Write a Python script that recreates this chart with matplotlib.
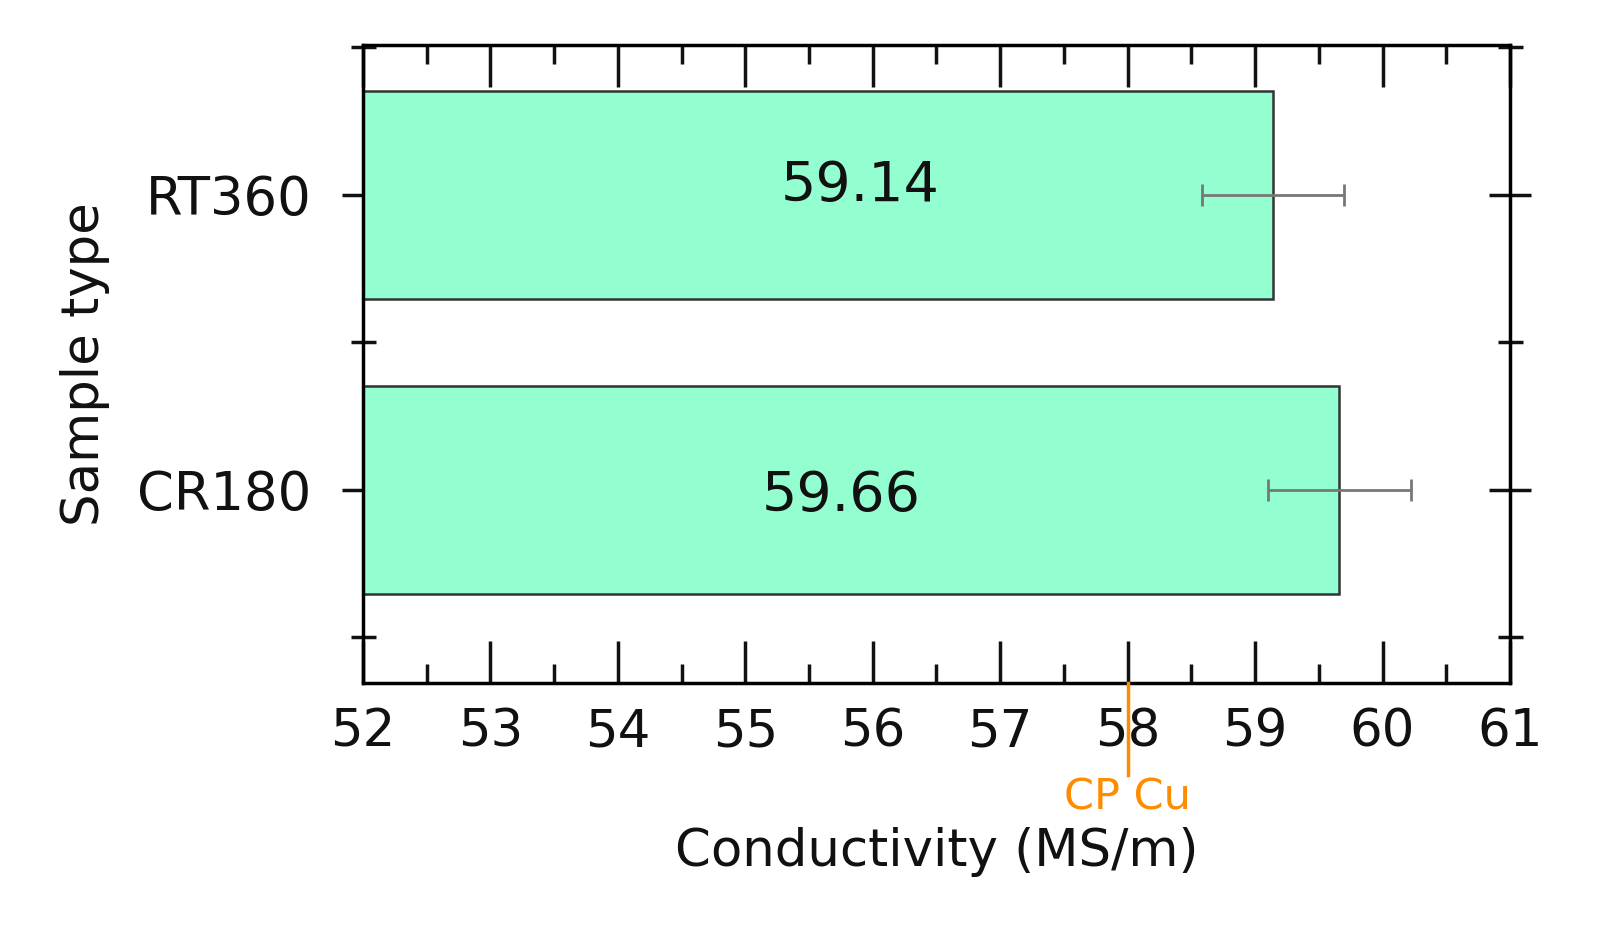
import matplotlib.pyplot as plt
from matplotlib.ticker import MultipleLocator

samples = ['CR180', 'RT360']
conductivity = [59.66, 59.14]
err_low = [59.10, 58.58]
err_high = [60.22, 59.70]
cp_cu = 58.0

plt.rcParams['font.family'] = 'DejaVu Sans'

fig = plt.figure(figsize=(16.17, 9.33), dpi=100)
ax = fig.add_axes([0.2245, 0.268, 0.7093, 0.684])

ypos = [0, 1]
ax.barh(ypos, [c - 52 for c in conductivity], left=52, height=0.705,
        color='#93FFD0', edgecolor='#333333', linewidth=1.8, zorder=2)

xerr = [[c - l for c, l in zip(conductivity, err_low)],
        [h - c for c, h in zip(conductivity, err_high)]]
ax.errorbar(conductivity, ypos, xerr=xerr, fmt='none', ecolor='#777777',
            elinewidth=2, capsize=8, capthick=2, zorder=3)

for y, c, xpos in zip(ypos, conductivity, [55.75, 55.9]):
    ax.text(xpos, y - 0.02 if y == 0 else y + 0.03, f'{c:.2f}', ha='center', va='center',
            fontsize=40, color='#111111', zorder=4)

ax.set_xlim(52, 61)
ax.set_ylim(-0.654, 1.508)
ax.set_yticks(ypos)
ax.set_yticklabels(samples, fontsize=38)
ax.yaxis.set_minor_locator(MultipleLocator(0.5))
ax.xaxis.set_major_locator(MultipleLocator(1))
ax.xaxis.set_minor_locator(MultipleLocator(0.5))
ax.tick_params(axis='x', which='both', direction='in', top=True, labelsize=37, pad=18,
               width=2.5, colors='#111111')
ax.tick_params(axis='x', which='major', length=30)
ax.tick_params(axis='x', which='minor', length=14)
ax.tick_params(axis='y', which='major', direction='inout', right=True, width=2.5,
               length=30, pad=22, colors='#111111')
ax.tick_params(axis='y', which='minor', direction='inout', right=True, width=2.5,
               length=18, colors='#111111')
for s in ax.spines.values():
    s.set_linewidth(2.5)

ax.set_xlabel('Conductivity (MS/m)', fontsize=37, labelpad=50, color='#111111')
ax.set_ylabel('Sample type', fontsize=37, labelpad=20, color='#111111')

trans = ax.get_xaxis_transform()
ax.plot([cp_cu, cp_cu], [0, -0.145], transform=trans, color='#FF8C00',
        linewidth=2.5, clip_on=False, zorder=5)
ax.text(cp_cu, -0.18, 'CP Cu', transform=trans, ha='center', va='center',
        fontsize=31, color='#FF8C00')

fig.savefig('out.png', dpi=100)
